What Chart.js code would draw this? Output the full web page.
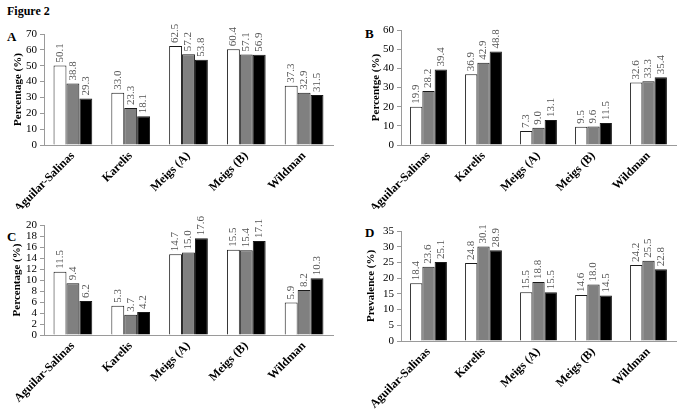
<!DOCTYPE html>
<html>
<head>
<meta charset="utf-8">
<script src="https://cdn.jsdelivr.net/npm/chart.js@4.4.1/dist/chart.umd.min.js"></script>
<style>
  body { margin: 0; background: #fff; }
  #fig { position: relative; width: 683px; height: 410px; overflow: hidden; font-family: "Liberation Serif", "DejaVu Serif", serif; }
  .lbl { position: absolute; font-weight: bold; color: #000; line-height: 14px; }
  canvas { position: absolute; }
</style>
</head>
<body>
<div id="fig">
  <div class="lbl" style="left:7px; top:4px; font-size:12px;">Figure 2</div>
  <div class="lbl" style="left:7px; top:30px; font-size:13px;">A</div>
  <div class="lbl" style="left:365px; top:27px; font-size:13px;">B</div>
  <div class="lbl" style="left:7px; top:230px; font-size:13px;">C</div>
  <div class="lbl" style="left:365px; top:226px; font-size:13px;">D</div>
  <canvas id="chartC" width="341" height="205" style="left:0; top:205px;"></canvas>
  <canvas id="chartD" width="342" height="205" style="left:341px; top:205px;"></canvas>
  <canvas id="chartA" width="341" height="209" style="left:0; top:0;"></canvas>
  <canvas id="chartB" width="342" height="209" style="left:341px; top:0;"></canvas>
</div>
<script>
// categorias del eje x (iguales en los cuatro paneles)
const categories = ['Aguilar-Salinas', 'Karelis', 'Meigs (A)', 'Meigs (B)', 'Wildman'];

// Panel A
const aWhite = [50.1, 33.0, 62.5, 60.4, 37.3];
const aGrey  = [38.8, 23.3, 57.2, 57.1, 32.9];
const aBlack = [29.3, 18.1, 53.8, 56.9, 31.5];
const aTicks = [0, 10, 20, 30, 40, 50, 60, 70];

// Panel B
const bWhite = [19.9, 36.9, 7.3, 9.5, 32.6];
const bGrey  = [28.2, 42.9, 9.0, 9.6, 33.3];
const bBlack = [39.4, 48.8, 13.1, 11.5, 35.4];
const bTicks = [0, 10, 20, 30, 40, 50, 60];

// Panel C
const cWhite = [11.5, 5.3, 14.7, 15.5, 5.9];
const cGrey  = [9.4, 3.7, 15.0, 15.4, 8.2];
const cBlack = [6.2, 4.2, 17.6, 17.1, 10.3];
const cTicks = [0, 2, 4, 6, 8, 10, 12, 14, 16, 18, 20];

// Panel D
const dWhite = [18.4, 24.8, 15.5, 14.6, 24.2];
const dGrey  = [23.6, 30.1, 18.8, 18.0, 25.5];
const dBlack = [25.1, 28.9, 15.5, 14.5, 22.8];
const dTicks = [0, 5, 10, 15, 20, 25, 30, 35];

const axisColor = '#9a9a9a';
const serif = '"Liberation Serif", "DejaVu Serif", serif';

// etiquetas verticales encima de cada barra
const valueLabels = {
    id: 'valueLabels',
    afterDatasetsDraw(chart) {
        const ctx = chart.ctx;
        ctx.save();
        ctx.font = '11px ' + serif;
        ctx.fillStyle = '#555';
        ctx.textAlign = 'left';
        ctx.textBaseline = 'middle';
        chart.data.datasets.forEach((ds, i) => {
            chart.getDatasetMeta(i).data.forEach((bar, j) => {
                ctx.save();
                ctx.translate(bar.x, bar.y - 3);
                ctx.rotate(-Math.PI / 2);
                ctx.fillText(ds.data[j].toFixed(1), 0, 0);
                ctx.restore();
            });
        });
        ctx.restore();
    }
};

function makePanel(id, series, ticks, title, box) {
    const canvas = document.getElementById(id);
    const w = canvas.width, h = canvas.height;
    const fills = ['#ffffff', '#808080', '#000000'];
    new Chart(canvas, {
        type: 'bar',
        data: {
            labels: categories,
            datasets: series.map((s, i) => ({
                data: s,
                backgroundColor: fills[i],
                borderColor: '#1a1a1a',
                borderWidth: 1,
                categoryPercentage: 0.67,
                barPercentage: 1.0
            }))
        },
        options: {
            responsive: false,
            animation: false,
            layout: { padding: { left: 0, top: box.top, right: w - box.right, bottom: 0 } },
            plugins: { legend: { display: false }, tooltip: { enabled: false } },
            scales: {
                x: {
                    offset: true,
                    grid: { display: false, drawTicks: false },
                    border: { color: axisColor, width: 1 },
                    ticks: {
                        font: { family: serif, size: 12, weight: 'bold' },
                        color: '#000',
                        minRotation: 45,
                        maxRotation: 45,
                        autoSkip: false,
                        padding: 4
                    },
                    afterFit: s => { s.height = h - box.bottom; }
                },
                y: {
                    min: ticks[0],
                    max: ticks[ticks.length - 1],
                    afterBuildTicks: s => { s.ticks = ticks.map(v => ({ value: v })); },
                    ticks: {
                        stepSize: ticks[1] - ticks[0],
                        autoSkip: false,
                        font: { family: serif, size: 11 },
                        color: '#000',
                        padding: 3
                    },
                    grid: { drawOnChartArea: false, tickLength: 4, color: axisColor },
                    border: { color: axisColor, width: 1 },
                    title: {
                        display: true,
                        text: title,
                        color: '#000',
                        font: { family: serif, size: 11, weight: 'bold' },
                        padding: { top: box.titlePad, bottom: 0 }
                    },
                    afterFit: s => { s.width = box.left; }
                }
            }
        },
        plugins: [valueLabels]
    });
}

makePanel('chartA', [aWhite, aGrey, aBlack], aTicks, 'Percentage (%)',
    { left: 44, right: 333, top: 34, bottom: 145, titlePad: 12 });
makePanel('chartB', [bWhite, bGrey, bBlack], bTicks, 'Percentge (%)',
    { left: 60, right: 335, top: 30, bottom: 145, titlePad: 29 });
makePanel('chartC', [cWhite, cGrey, cBlack], cTicks, 'Percentage (%)',
    { left: 44, right: 333, top: 20, bottom: 130, titlePad: 11 });
makePanel('chartD', [dWhite, dGrey, dBlack], dTicks, 'Prevalence (%)',
    { left: 60, right: 335, top: 26, bottom: 136, titlePad: 24 });
</script>
</body>
</html>
